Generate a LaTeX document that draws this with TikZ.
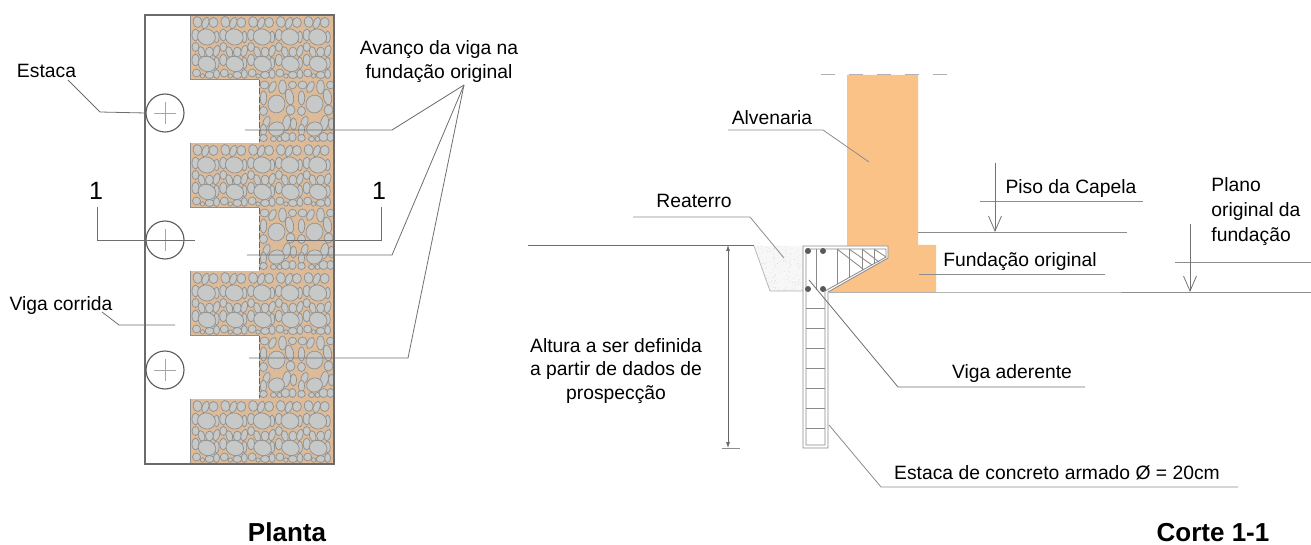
\documentclass[tikz,border=0pt]{standalone}
\usepackage{fontspec}
\setmainfont{Liberation Sans}
\usetikzlibrary{arrows.meta}
\definecolor{tan}{HTML}{DDBB98}
\definecolor{stonef}{HTML}{C6C9C7}
\definecolor{stonel}{HTML}{8E9090}
\definecolor{orangew}{HTML}{FBC287}
\definecolor{inkl}{HTML}{6E6E6E}
\definecolor{rebar}{HTML}{8A8A8A}
\tikzset{
  lbl/.style={font=\fontsize{9.65pt}{12pt}\selectfont,text=black,inner sep=0pt,anchor=base},
  lblm/.style={font=\fontsize{9.65pt}{12pt}\selectfont,text=black,inner sep=0pt,align=center},
  numlbl/.style={font=\fontsize{12.5pt}{14pt}\selectfont,text=black,inner sep=0pt,anchor=base},
  ttl/.style={font=\fontsize{13pt}{15pt}\bfseries\selectfont,text=black,inner sep=0pt,anchor=base},
  leader/.style={draw=inkl,line width=0.4pt},
  leaderl/.style={draw=black!45,line width=0.4pt},
  frameline/.style={draw=black!58,line width=0.55pt},
  stone/.style={fill=stonef,draw=stonel,line width=0.35pt},
  pile/.style={circle,draw=black!65,line width=0.55pt,minimum size=19pt,inner sep=0pt,fill=white},
  bar/.style={draw=rebar,line width=0.42pt},
  dot/.style={circle,fill=black!65,inner sep=0pt,minimum size=3pt},
  drop/.style={draw=black!55,line width=0.4pt,-{Straight Barb[length=7.5pt,width=6.5pt,line width=0.4pt]}},
  dimline/.style={draw=black!60,line width=0.35pt,{Latex[length=3pt,width=2pt]}-{Latex[length=3pt,width=2pt]}}
}
\newcommand{\bigtile}[2]{\begin{scope}[shift={(#1,#2)}]
 \foreach \a/\b/\c/\d/\r in {6/7/4.5/5.5/10,14/8/3.2/6/-20,22/7.5/4.5/5/0,4/20/3.5/6/0,25/22/2.5/6/0,4/32/3.5/4.5/0,10/37/3.2/5.5/15,18/37/4/5/0,25/36/3/6/-15,4/45/3.5/6/0,25/48/2.5/6/0,5/58/4/4/0,11/61/2.2/2.2/0,18/60/4.5/3.5/0,25/59/3/4.5/0,15/22/9/8/-15,15.5/49/9/7.5/-20}
  \draw[stone,rotate around={\r:(\a,\b)}] (\a,\b) ellipse [x radius=\c,y radius=\d];
\end{scope}}
\newcommand{\smalltile}[2]{\begin{scope}[shift={(#1,#2)}]
 \foreach \a/\b/\c/\d/\r in {5/5/4.5/4/0,13/7/3.2/6/-25,23/7/3.8/7/0,33/5/4/3.8/0,4/18/3.2/7/0,30/17/4/8/10,4/31/4/4.5/0,31/30/4.5/5/0,7/42/3.2/6/-20,27/43/3.8/8/-10,4/50/3/6/0,34/44/3/6/0,4/58/3.8/3.5/0,14/59/3/2.5/0,20/59/2.5/2.5/0,26/57/4.5/4.5/0,33/57/3.6/4.5/0,17/24/8.5/9/-15,17/49/8/7/15}
  \draw[stone,rotate around={\r:(\a,\b)}] (\a,\b) ellipse [x radius=\c,y radius=\d];
\end{scope}}
\begin{document}
\begin{tikzpicture}[x=0.5pt,y=-0.5pt]
\useasboundingbox (0,0) rectangle (1311,545);
% ---------- Planta: masonry
\foreach \y in {15,143,271,399}{
 \begin{scope}
  \fill[tan] (190,\y) rectangle (334,\y+64.5);
  \clip (190,\y) rectangle (334,\y+64.5);
  \foreach \k in {0,...,4}{\bigtile{190+1.5+27.8*\k}{\y}}
 \end{scope}
 \draw[stonel,line width=0.4pt] (190,\y) -- (190,\y+64.5) -- (334,\y+64.5);
}
\foreach \y in {80,208,336}{
 \begin{scope}
  \fill[tan] (259,\y-1) rectangle (334,\y+63);
  \clip (259,\y-1) rectangle (334,\y+63);
  \smalltile{259.5}{\y}
  \smalltile{297.5}{\y}
 \end{scope}
 \draw[black!60,line width=0.5pt,dash pattern=on 3pt off 1.2pt] (259,\y) -- (259,\y+62);
}
% frame
\draw[frameline] (190,15) -- (145,15) -- (145,464) -- (334,464) -- (334,15) -- cycle;
% piles
\foreach \n/\y in {p1/113,p2/240,p3/370}{
 \node[pile] (\n) at (165,\y) {};
 \draw[black!35,line width=0.35pt] (154,\y) -- (176,\y) (165,\y-11) -- (165,\y+11);
}
% Planta labels
\node[lbl] (estaca) at (46.5,78) {Estaca};
\node[lbl] (viga) at (61,310) {Viga corrida};
\node[numlbl] (unL) at (96,200) {1};
\node[numlbl] (unR) at (379,200) {1};
\node[lblm] (avanco) at (439,62) {Avanço da viga na\\fundação original};
\coordinate (eA) at (68,80); \coordinate (eB) at (100,112);
\draw[leader] (eA) -- (eB) -- (p1.west);
\coordinate (vA) at (102,312); \coordinate (vB) at (119,325); \coordinate (vC) at (175,325);
\draw[leader] (vA) -- (vB) -- (vC);
\coordinate (cLa) at (97.5,207); \coordinate (cLb) at (97.5,240); \coordinate (cLc) at (195,240);
\draw[leader] (cLa) -- (cLb) -- (cLc);
\coordinate (cRa) at (381,207); \coordinate (cRb) at (381,240); \coordinate (cRc) at (287,240);
\draw[leader] (cRa) -- (cRb) -- (cRc);
\coordinate (apex) at (464,85);
\coordinate (a1) at (392,130); \coordinate (a1e) at (245,130);
\coordinate (a2) at (392,255); \coordinate (a2e) at (247,255);
\coordinate (a3) at (408,358); \coordinate (a3e) at (249,358);
\draw[leader] (apex) -- (a1) -- (a1e);
\draw[leader] (apex) -- (a2) -- (a2e);
\draw[leader] (apex) -- (a3) -- (a3e);
\node[ttl] (planta) at (287,541) {Planta};
% ---------- Corte
% backfill
\begin{scope}
 \fill[black!3] (754,246) -- (770,291) -- (803,291) -- (803,246) -- cycle;
 \clip (754,246) -- (770,291) -- (803,291) -- (803,246) -- cycle;
 \pgfmathsetseed{7}
 \foreach \i in {1,...,200}{
  \pgfmathsetmacro\px{752+rnd*52}
  \pgfmathsetmacro\py{246+rnd*46}
  \fill[black!14] (\px,\py) circle [radius=0.45];
 }
\end{scope}
\draw[black!30,line width=0.35pt] (754,246) -- (770,291) -- (803,291);
% wall
\fill[orangew] (847,75) -- (918,75) -- (918,245) -- (936,245) -- (936,292) -- (826,292) -- (888,258) -- (888,246) -- (847,246) -- cycle;
% dashed top
\draw[black!30,line width=0.5pt,dash pattern=on 7pt off 7pt] (821,75) -- (947,75);
% ground lines
\coordinate (gL) at (528,245); \coordinate (gR) at (754,245);
\draw[leader] (gL) -- (gR);
\coordinate (fB) at (936,292); \coordinate (fE) at (1311,292);
\draw[draw=black!45,line width=0.4pt] (829,292) -- (fB) -- (fE);
% beam and pile
\draw[bar,fill=white] (803,246) -- (888,246) -- (888,258) -- (828,292) -- (828,448) -- (803,448) -- cycle;
\draw[bar] (806,249) -- (886,249) -- (886,257) -- (825,291) -- (825,445) -- (806,445) -- cycle;
\foreach \y in {308,328,348,368,388,408,428}{\draw[bar] (806,\y) -- (825,\y);}
\draw[bar] (816,249) -- (816,290);
\draw[bar] (837,249) -- (837,284) (849,249) -- (849,277) (862,249) -- (862,270) (874,249) -- (874,264);
\draw[bar] (837,249) -- (863,269) (849,249) -- (872,265) (862,249) -- (879,262) (874,249) -- (886,257);
\foreach \n/\x/\y in {d1/808/251,d2/823/251,d3/808/289,d4/823/289}{\node[dot] (\n) at (\x,\y) {};}
% labels
\node[lbl] (reat) at (694,208) {Reaterro};
\node[lbl] (alv) at (772,125) {Alvenaria};
\node[lbl] (piso) at (1071,194) {Piso da Capela};
\node[lblm,align=left,anchor=west,font=\fontsize{9.65pt}{12.5pt}\selectfont] (plano) at (1211,212) {Plano\\original da\\fundação};
\node[lbl] (fund) at (1020,267) {Fundação original};
\node[lbl] (vade) at (1012,378) {Viga aderente};
\node[lbl] (econc) at (1057,479) {Estaca de concreto armado Ø = 20cm};
\node[lblm,font=\fontsize{9.65pt}{11.75pt}\selectfont] (alt) at (616,371) {Altura a ser definida\\a partir de dados de\\prospecção};
\node[ttl] (corte) at (1213,541) {Corte 1-1};
% leaders
\coordinate (rA) at (633,217); \coordinate (rB) at (750,217); \coordinate (rC) at (784,258);
\draw[leaderl] (rA) -- (rB) -- (rC);
\coordinate (aA) at (728,130); \coordinate (aB) at (823,130); \coordinate (aC) at (869,162);
\draw[leaderl] (aA) -- (aB) -- (aC);
\coordinate (fuA) at (919,274); \coordinate (fuB) at (1105,274);
\draw[leaderl] (fuA) -- (fuB);
\coordinate (vaA) at (809,280); \coordinate (vaB) at (898,387); \coordinate (vaC) at (1085,387);
\draw[leader] (vaA) -- (vaB) -- (vaC);
\coordinate (esA) at (829,425); \coordinate (esB) at (881,487); \coordinate (esC) at (1238,487);
\draw[leaderl] (esA) -- (esB) -- (esC);
% levels
\coordinate (piA) at (918,232); \coordinate (piB) at (1127,232);
\draw[leaderl] (piA) -- (piB);
\coordinate (psA) at (980,201); \coordinate (psB) at (1143,201);
\draw[leaderl] (psA) -- (psB);
\coordinate (aPt) at (995,163); \coordinate (aPb) at (995,232);
\draw[drop] (aPt) -- (aPb);
\coordinate (plA) at (1175,262); \coordinate (plB) at (1311,262);
\draw[leaderl] (plA) -- (plB);
\coordinate (aFt) at (1190,224); \coordinate (aFb) at (1190,292);
\draw[drop] (aFt) -- (aFb);
% dimension
\coordinate (dT) at (728,245); \coordinate (dB) at (728,448);
\draw[dimline] (dT) -- (dB);
\coordinate (dfA) at (722,448); \coordinate (dfB) at (740,448);
\draw[leaderl] (dfA) -- (dfB);
\end{tikzpicture}
\end{document}
